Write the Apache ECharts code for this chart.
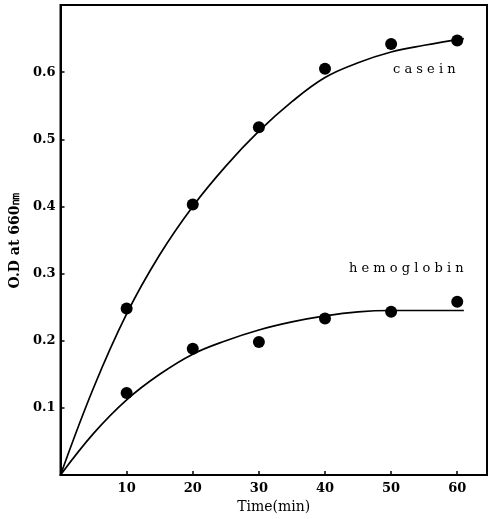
<!DOCTYPE html>
<html>
<head>
<meta charset="utf-8">
<script src="https://cdn.jsdelivr.net/npm/echarts@6/dist/echarts.min.js"></script>
<style>html,body{margin:0;padding:0;background:#fff}#c{width:490px;height:519px}</style>
</head>
<body>
<div id="c"></div>
<script>
// Measured points
var times = [10, 20, 30, 40, 50, 60];
var caseinOD = [0.248, 0.403, 0.518, 0.605, 0.642, 0.647];
var hemoglobinOD = [0.122, 0.188, 0.198, 0.233, 0.243, 0.258];
// Fitted curves
var curveTimes = [0, 5, 10, 15, 20, 25, 30, 35, 40, 45, 50, 55, 61];
var caseinCurve = [0, 0.130, 0.240, 0.328, 0.400, 0.460, 0.512, 0.556, 0.592, 0.614, 0.630, 0.640, 0.650];
var hemoglobinCurve = [0, 0.062, 0.112, 0.150, 0.180, 0.200, 0.216, 0.228, 0.237, 0.243, 0.245, 0.245, 0.245];
var xTicks = [10, 20, 30, 40, 50, 60];
var yTicks = [0.1, 0.2, 0.3, 0.4, 0.5, 0.6];
var seriesNames = ['casein', 'hemoglobin'];
var xName = 'Time(min)';
var yName = 'O.D at 660㎚';

function pairs(xs, ys) { return xs.map(function (x, i) { return [x, ys[i]]; }); }
var font = 'DejaVu Serif';
var chart = echarts.init(document.getElementById('c'));
chart.setOption({
  animation: false,
  backgroundColor: '#fff',
  grid: { left: 58, top: 5, right: 3, bottom: 41, show: true, borderColor: '#000', borderWidth: 2 },
  xAxis: {
    type: 'value', min: 0, max: 64.5, interval: 10,
    name: xName, nameLocation: 'middle', nameGap: 25,
    nameTextStyle: { fontFamily: font, fontSize: 14, color: '#000' },
    axisLine: { lineStyle: { color: '#000', width: 2 } },
    axisTick: { inside: true, length: 4, lineStyle: { color: '#000', width: 1.5 } },
    splitLine: { show: false },
    axisLabel: { fontFamily: font, fontWeight: 'bold', fontSize: 13, color: '#000', margin: 7,
      formatter: function (v) { return xTicks.indexOf(v) >= 0 ? String(v) : ''; } }
  },
  yAxis: {
    type: 'value', min: 0, max: 0.7, interval: 0.1,
    name: yName, nameLocation: 'middle', nameGap: 38, nameRotate: 90,
    nameTextStyle: { fontFamily: font, fontSize: 14, fontWeight: 'bold', color: '#000' },
    axisLine: { lineStyle: { color: '#000', width: 2 } },
    axisTick: { inside: true, length: 4, lineStyle: { color: '#000', width: 1.5 } },
    splitLine: { show: false },
    axisLabel: { fontFamily: font, fontWeight: 'bold', fontSize: 13, color: '#000', margin: 5,
      formatter: function (v) {
        var r = Math.round(v * 10) / 10;
        return (yTicks.indexOf(r) >= 0 && Math.abs(v - r) < 1e-6) ? r.toFixed(1) : '';
      } }
  },
  series: [
    { name: seriesNames[0] + ' fit', type: 'line', smooth: 0.4, symbol: 'none',
      data: pairs(curveTimes, caseinCurve), lineStyle: { color: '#000', width: 1.7 }, z: 2 },
    { name: seriesNames[1] + ' fit', type: 'line', smooth: 0.4, symbol: 'none',
      data: pairs(curveTimes, hemoglobinCurve), lineStyle: { color: '#000', width: 1.7 }, z: 2 },
    { name: seriesNames[0], type: 'scatter', symbol: 'circle', symbolSize: 12,
      itemStyle: { color: '#000', opacity: 1 }, data: pairs(times, caseinOD), z: 3 },
    { name: seriesNames[1], type: 'scatter', symbol: 'circle', symbolSize: 12,
      itemStyle: { color: '#000', opacity: 1 }, data: pairs(times, hemoglobinOD), z: 3 }
  ],
  graphic: [
    { type: 'text', left: 393, top: 63, style: { text: 'c a s e i n', fontFamily: font, fontSize: 13, fill: '#000' } },
    { type: 'text', left: 349, top: 262, style: { text: 'h e m o g l o b i n', fontFamily: font, fontSize: 13, fill: '#000' } }
  ]
});
</script>
</body>
</html>
